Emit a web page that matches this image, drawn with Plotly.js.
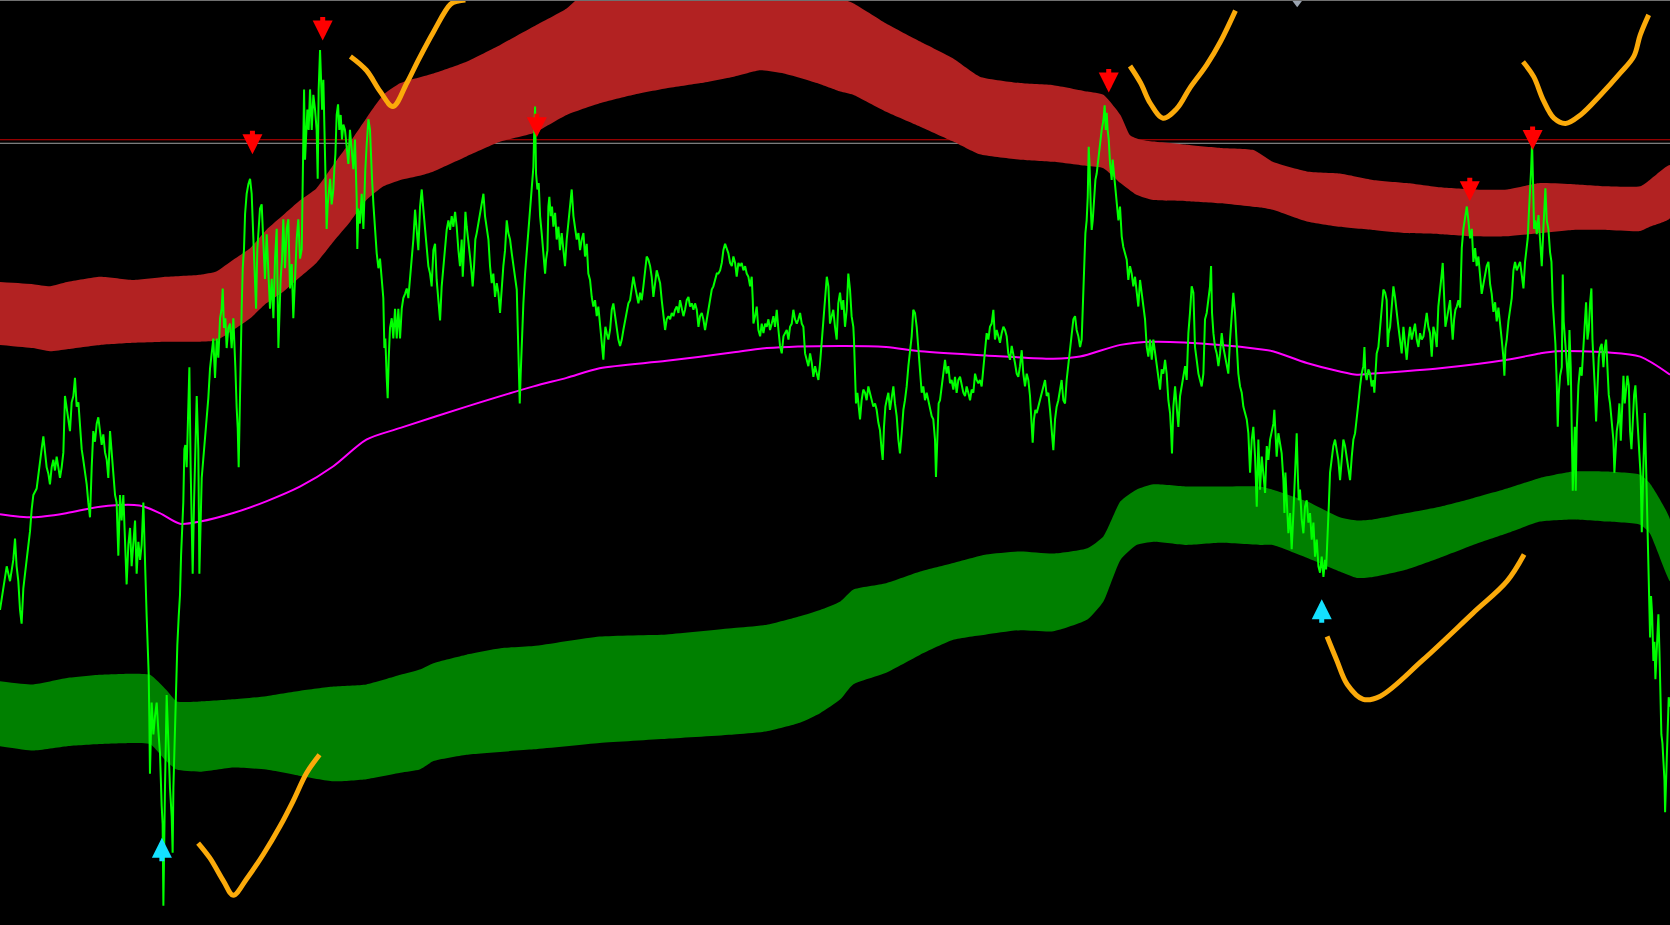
<!DOCTYPE html>
<html>
<head>
<meta charset="utf-8">
<script src="https://cdn.plot.ly/plotly-3.0.1.min.js"></script>
<style>html,body{margin:0;padding:0;background:#000;}#chart{width:1670px;height:925px;}</style>
</head>
<body>
<div id="chart"></div>
<script>
// Values (horizontal = bar position, vertical = price level, screen-down units)
const redTopX = [0,31,47,63,94,125,156,188,203,219,235,250,266,282,297,313,329,344,360,376,407,438,470,501,532,541,560,620,680,740,780,801,832,864,895,920,958,989,1021,1036,1052,1061,1070,1083,1114,1146,1177,1195,1227,1258,1289,1321,1352,1383,1415,1446,1477,1509,1540,1549,1568];
const redTopY = [265,267,269,265,260,263,260,258,255,244,233,216,202,188,177,155,133,111,89,78,69,58,42,25,8,0,-10,-20,-22,-18,-5,3,22,39,55,72,78,80,86,89,108,127,131,133,136,139,141,152,161,163,169,172,176,178,178,172,173,175,175,169,155];
const redBotX = [0,31,47,63,94,125,156,188,203,219,235,250,266,282,297,313,329,344,360,376,394,407,438,470,501,532,563,595,626,658,689,714,736,767,789,801,832,864,895,920,958,989,1021,1036,1052,1067,1083,1114,1146,1183,1195,1227,1258,1289,1321,1352,1383,1415,1446,1477,1509,1540,1549,1568];
const redBotY = [324,327,330,328,324,322,321,321,320,310,299,285,274,260,247,227,208,188,175,169,165,161,147,133,125,108,97,89,83,78,72,66,69,78,86,89,105,119,133,145,150,152,156,158,172,183,188,189,191,195,197,208,213,216,219,220,222,222,219,216,216,217,213,205];

const greenTopX = [0,31,63,94,125,141,156,166,188,219,250,282,313,344,376,394,407,438,470,501,563,626,689,720,751,770,789,801,832,864,895,926,958,989,1021,1036,1052,1067,1083,1114,1146,1183,1195,1227,1258,1274,1289,1321,1352,1383,1415,1446,1477,1509,1540,1549,1568];
const greenTopY = [640,643,637,634,633,634,648,659,659,657,654,649,645,643,634,629,623,615,609,607,598,596,590,587,579,573,565,554,548,537,529,521,518,520,515,504,471,460,455,457,457,457,460,471,486,489,488,482,476,468,459,449,443,443,446,454,488];
const greenBotX = [0,31,63,94,125,141,156,166,188,219,250,282,313,344,376,394,407,438,501,563,626,689,720,751,770,789,801,832,864,895,926,958,989,1021,1036,1052,1067,1083,1114,1146,1183,1195,1227,1258,1274,1289,1321,1352,1383,1415,1446,1477,1509,1540,1549,1568];
const greenBotY = [701,705,701,699,698,699,715,723,725,721,723,729,734,732,726,723,715,709,704,698,694,690,687,679,670,657,643,632,615,601,596,592,593,582,565,526,512,509,512,510,512,512,524,537,543,542,535,524,512,501,490,488,490,493,501,546];

const midX = [0,31,63,94,131,150,169,188,219,250,282,313,344,376,438,501,532,563,626,689,720,789,832,864,926,989,1014,1052,1083,1146,1183,1195,1227,1258,1274,1289,1352,1415,1446,1462,1509,1540,1568];
const midY = [483,486,482,476,475,482,492,490,482,471,457,438,413,402,382,363,355,346,339,331,327,325,326,330,334,337,335,324,321,324,328,330,341,349,352,351,346,338,332,330,331,335,352];

const price = [
[0,573],[4.7,539],[6.3,532],[9.4,546],[12.5,526],[14.1,506],[15.6,532],[17.2,546],[18.8,573],[20.3,586],[21.9,553],[23.5,539],[25,526],[26.6,516],[28.2,499],[29.7,479],[31.3,465],[34.4,459],[36,445],[37.6,432],[39.1,422],[40.7,410],[42.3,425],[43.8,439],[45.4,445],[46.9,455],[48.5,439],[50.1,432],[51.6,442],[53.2,429],[54.8,439],[56.3,449],[57.9,439],[59.5,425],[61,372],[62.6,382],[64.2,392],[65.7,405],[67.3,378],[68.9,372],[70.4,355],[72,382],[73.6,378],[75.1,398],[76.7,422],[78.2,432],[79.8,442],[81.4,455],[82.9,472],[84.5,486],[86.1,439],[87.6,405],[89.2,415],[90.8,398],[92.3,392],[93.9,405],[95.5,418],[97,408],[98.6,425],[100.2,432],[101.7,449],[103.3,405],[104.9,425],[106.4,439],[108,465],[109.5,472],[111.1,522],[112.7,465],[114.2,489],[115.8,465],[117.4,506],[118.9,549],[120.5,512],[122.1,496],[123.6,532],[125.2,512],[126.8,489],[128.3,539],[129.9,509],[131.5,526],[133,512],[134.6,472],[135.5,522],[136.5,539],[137.7,579],[138.7,606],[139.6,633],[140.2,673],[140.8,727],[142.4,660],[144,690],[145.5,673],[147.1,660],[148.7,687],[150.2,707],[151.8,757],[152.7,774],[153.4,851],[154,774],[154.9,740],[156.5,653],[158.1,707],[159.6,740],[161.2,767],[162.1,801],[162.8,740],[164.3,673],[165.3,640],[166.5,606],[167.8,579],[169,559],[170,522],[170.9,496],[172.1,472],[173.1,422],[174,418],[175.3,439],[176.8,382],[177.8,345],[179,439],[180,489],[180.9,539],[182.2,472],[183.1,439],[184.7,372],[186.2,422],[187.2,539],
[189.4,449],[190.9,430],[192.5,416],[194.1,393],[195.6,374],[197.2,346],[198.8,332],[200.3,318],[201.9,355],[203.5,318],[205,336],[206.6,299],[208.1,290],[209.1,271],[210.3,308],[211.6,299],[212.8,327],[214.4,308],[216,304],[217.5,327],[219.1,299],[220,318],[221,346],[222.2,383],[223.2,402],[224.1,439],[225,383],[226,332],[226.9,290],[227.9,252],[229.1,234],[230.1,201],[231.6,182],[233.2,173],[234.8,168],[236.3,182],[237.9,224],[239.4,271],[240.4,290],[241.6,234],[242.9,215],[244.1,196],[245.7,192],[247.3,224],[248.8,262],[250.4,220],[252,252],[253.5,290],[255.1,262],[256.7,299],[258.2,243],[259.8,215],[261.4,327],[262.3,290],[263.5,262],[264.8,243],[266,206],[267.6,252],[269.2,215],[270.7,206],[272.3,271],[273.9,248],[275.4,299],[277,262],[278.6,224],[280.1,206],[281.7,243],[283.3,234],[284.2,168],[285.5,84],[286.4,150],[287.3,122],[288.6,103],[289.8,122],[291.1,84],[292.7,122],[294.2,89],[295.8,103],[297.3,122],[298.3,168],[299.2,84],[300.5,47],[301.4,89],[302.4,103],[303.6,75],[304.5,122],[305.5,159],[306.7,215],[307.7,192],[308.6,182],[309.9,168],[311.4,192],[313,178],[313.9,159],[314.9,145],[316.1,108],[317.4,98],[318.6,122],[319.9,108],[321.1,131],[322.4,117],[323.9,122],[325.5,140],[327.1,154],[328.6,122],[330.2,140],[331.8,159],[333.3,131],[334.9,187],[335.5,234],[336.5,196],[338,210],[339.6,182],[341.2,215],[342.1,178],[343,159],[344.3,136],[345.9,112],[347.4,122],[348.4,150],[349.3,168],[350.6,192],[352.1,215],[353.7,238],[355.3,252],[356.8,243],[358.4,262],[359.9,280],[360.9,327],[361.8,318],[363.1,355],[364,374],[365,336],[366.2,308],[367.8,299],[369.3,318],[370.9,290],[372.5,318],[374,290],[375.6,318],[377.2,290],[378.7,280],[380.3,276],[381.9,271],[383.4,280],
[385,263],[386.6,247],[388.1,225],[389.7,197],[391.3,219],[392.8,235],[394.4,194],[396,178],[397.5,197],[399.1,213],[400.6,235],[402.2,250],[403.8,257],[405.3,269],[406.9,235],[408.5,229],[410,263],[411.6,279],[413.2,301],[414.7,269],[416.3,250],[417.9,229],[419.4,216],[421,207],[422.6,216],[424.1,203],[425.7,213],[427.3,199],[428.8,213],[430.4,235],[431.9,250],[433.5,225],[434.5,260],[435.7,235],[437,199],[438.2,213],[439.8,225],[441.3,241],[442.9,257],[443.8,269],[445.1,250],[446.3,225],[447.6,219],[449.2,210],[450.7,200],[452.3,194],[453.9,182],[455.4,203],[457,213],[458.6,225],[460.1,250],[461.7,266],[463.2,257],[464.8,279],[466.4,266],[467.9,275],[469.5,294],[471.1,269],[472.6,250],[474.2,235],[475.8,207],[477.3,219],[478.9,225],[480.5,238],[482,250],[483.6,263],[485.2,272],[486.1,307],[487,351],[488,379],[488.9,351],[489.9,319],[491.4,285],[493,257],[494.5,238],[496.1,219],[497.7,197],[499.2,185],[500.8,157],[501.4,131],[502.4,100],[503.3,163],[504.6,178],[505.8,172],[507.1,203],[508.6,219],[510.2,238],[511.8,257],[512.7,244],[514,235],[514.9,194],[515.8,185],[517.1,203],[518.3,194],[519.6,213],[521.2,200],[522.7,225],[524.3,213],[525.8,235],[527.4,219],[529,235],[530.5,250],[532.1,225],[533.7,210],[535.2,194],[536.8,178],[538.4,203],[539.9,216],[541.5,225],[543.1,219],[544.6,235],[546.2,225],[547.8,219],[549.3,241],[550.9,229],[552.4,257],[554,263],[555.6,279],[557.1,288],[558.7,282],[560.3,297],[561.8,288],[563.4,307],[565,326],[566.5,338],[567.5,319],[568.4,307],[569.7,313],[571.2,319],[572.8,310],[574.4,291],[575.9,285],[577.5,297],[579.1,304],[580.6,319],
[582.2,325],[583.8,319],[585.3,310],[586.9,300],[588.5,294],[590,285],[591.6,282],[593.2,269],[594.7,260],[596.3,269],[597.8,279],[599.4,285],[601,275],[602.5,282],[604.1,269],[605.7,254],[607.2,241],[608.8,244],[610.4,250],[611.9,260],[613.5,279],[615.1,266],[616.6,254],[618.2,260],[619.8,266],[621.3,282],[622.9,294],[624.5,310],[626,300],[627.6,297],[629.2,300],[630.7,294],[632.3,297],[633.8,291],[635.4,288],[637,294],[638.5,282],[640.1,291],[641.7,297],[643.2,291],[644.8,282],[646.4,279],[647.9,288],[649.5,285],[651.1,291],[652.6,285],[654.2,291],[655.8,307],[657.3,297],[658.9,294],[660.4,300],[662,310],[663.6,300],[665.1,294],[666.7,285],[668.3,272],[669.8,269],[671.4,263],[673,257],[674.5,257],[676.1,254],[677.7,247],[679.2,235],[680.8,229],[682.4,235],[683.9,238],[685.5,247],[687.1,250],[688.6,241],[690.2,247],[691.7,260],[693.3,247],[694.9,250],[696.4,247],[698,254],[699.6,250],[701.1,257],[702.7,260],[704.3,269],[705.8,260],[706.8,282],[707.4,304],[709,297],[710.5,288],[712.1,310],[713.7,316],[715.2,304],[716.8,313],[718.4,304],[719.9,307],[721.5,300],[723,310],[724.6,304],[726.2,297],[727.7,307],[729.3,291],[730.9,310],[732.4,325],[734,332],[735.6,316],[737.1,313],[738.7,310],[740.3,319],[741.8,307],[743.4,304],[744.9,291],[746.5,300],[748.1,304],[749.6,300],[751.2,294],[752.8,304],[754.3,307],[755.9,332],[757.5,338],[759,344],[760.6,332],[762.2,341],[763.7,354],[765.3,344],[766.9,351],[768.4,357],[770,341],[771.6,322],[773.1,300],[774.7,279],[776.3,260],[777.8,269],
[779.3,304],[780.9,297],[782.4,291],[784,307],[785.6,319],[787.1,285],[788.7,275],[790.3,291],[791.8,282],[793.4,307],[795,291],[796.5,257],[798.1,272],[799.6,297],[801.2,307],[801.8,319],[802.8,363],[803.7,379],[805,369],[806.2,385],[807.5,394],[809,376],[810.6,366],[812.2,369],[813.7,376],[815.3,363],[816.9,369],[818.4,376],[820,382],[821.6,379],[823.1,385],[824.7,397],[826.2,404],[827.8,423],[828.8,432],[830,401],[831.3,382],[832.5,376],[834.1,369],[835.6,385],[837.2,376],[838.8,363],[840.3,379],[841.9,391],[843.5,413],[845,426],[846.6,407],[848.2,385],[849.7,376],[851.3,363],[852.9,344],[854.4,329],[856,316],[857.5,291],[859.1,294],[860.7,307],[862.2,325],[863.8,347],[865.4,369],[866.9,363],[868.5,376],[870.1,369],[871.6,376],[873.2,382],[874.8,391],[876.3,394],[877.9,413],[878.8,448],[879.5,426],[880.4,391],[881.3,379],[882.6,376],[884.2,363],[885.7,351],[887.3,338],[888.8,351],[890.4,344],[892,360],[893.5,357],[895.1,366],[896.7,354],[898.2,369],[899.8,357],[901.4,354],[902.9,363],[904.5,369],[906.1,372],[907.6,363],[909.2,369],[910.8,376],[912.3,366],[913.9,369],[915.5,351],[917,357],[918.6,360],[920.1,357],[921.7,363],[923.3,344],[924.8,329],[926.4,313],[928,319],[929.5,307],[931.1,304],[932.7,291],[934.2,319],[935.8,310],[937.4,316],[938.9,322],[940.5,313],[942.1,307],[943.6,310],[945.2,316],[946.7,332],[948.3,338],[949.9,325],[951.4,332],[953,341],[954.6,351],[956.1,354],[957.7,344],[959.3,329],[960.8,351],[962.4,363],[964,351],[965.5,357],[967.1,372],[968.7,394],[969.6,416],[970.8,394],[972.1,385],[973.4,388],[974.9,382],
[976.5,376],[978.1,369],[979.6,363],[981.2,357],[982.8,372],[984.3,369],[985.9,385],[987.5,404],[989,423],[990.6,394],[992.1,382],[993.7,376],[995.3,366],[996.8,357],[998.4,376],[1000,379],[1001.5,357],[1003.1,341],[1004.7,326],[1006.2,313],[1007.8,300],[1009.4,297],[1010.9,310],[1012.5,316],[1014.1,326],[1015.6,319],[1016.6,294],[1017.8,250],[1019.1,219],[1020.3,207],[1021.3,185],[1022.2,138],[1023.1,157],[1024.1,194],[1025,216],[1026,207],[1027.2,185],[1028.5,169],[1029.7,163],[1031.3,147],[1032.8,135],[1034.4,122],[1036,113],[1037.2,99],[1038.2,122],[1039.1,106],[1040,122],[1041,131],[1042.2,153],[1043.8,169],[1044.7,150],[1046,163],[1046.9,175],[1048.5,188],[1050.1,207],[1051.6,194],[1053.2,222],[1054.7,232],[1056.3,238],[1057.9,244],[1059.4,263],[1061,250],[1062.6,257],[1064.1,269],[1065.7,260],[1067.3,272],[1068.8,288],[1070.4,263],[1072,275],[1073.5,288],[1075.1,300],[1076.7,326],[1078.2,335],[1079.8,319],[1081.4,338],[1082.9,319],[1084.5,332],[1086,341],[1087.6,357],[1089.2,366],[1090.7,347],[1092.3,351],[1093.9,338],[1095.4,351],[1097,376],[1098.6,388],[1099.5,404],[1100.4,426],[1101.7,382],[1103.3,363],[1104.8,382],[1106.4,401],[1108,372],[1109.5,363],[1111.1,351],[1112.7,344],[1114.2,357],[1115.8,313],[1117.3,294],[1118.9,269],[1120.5,275],[1122,326],[1123.6,338],[1125.2,351],[1126.7,357],[1128.3,363],[1129.9,351],[1131.4,300],[1133,294],[1134.6,279],[1136.1,269],[1137.1,250],[1138,294],[1139.3,313],[1140.8,326],[1142.4,332],[1144,344],[1145.5,332],[1147.1,313],[1148.6,326],[1150.2,335],[1151.8,341],[1153.3,351],[1154.9,319],[1156.5,294],[1158,275],[1159.6,294],[1161.2,319],[1162.7,351],[1164.3,363],[1165.9,369],[1167.4,382],[1169,388],[1170.6,394],[1172.1,407],
[1173.7,444],[1175.3,413],[1176.8,401],[1178.4,429],[1180,476],[1181.5,413],[1183.1,460],[1184.7,429],[1186.2,444],[1187.8,463],[1189.4,419],[1190.9,432],[1192.5,413],[1194,404],[1195.6,398],[1196.5,385],[1197.5,413],[1198.7,429],[1200.3,407],[1201.9,419],[1203.4,426],[1205,451],[1206,482],[1206.9,444],[1208.1,476],[1209.7,501],[1211.3,482],[1212.8,516],[1214.4,482],[1216,444],[1217.5,407],[1218.5,444],[1219.4,470],[1220.6,460],[1222.2,488],[1223.8,501],[1225.3,476],[1226.9,470],[1228.5,491],[1230,482],[1231.6,507],[1233.2,491],[1234.7,523],[1236.3,507],[1237.9,532],[1239.4,538],[1241,523],[1242.6,542],[1244.1,526],[1245.1,535],[1246.3,513],[1247.6,476],[1248.8,444],[1250.4,429],[1251.9,419],[1253.5,413],[1255.1,423],[1256.6,432],[1258.2,451],[1259.8,432],[1261.3,413],[1262.9,419],[1264.5,429],[1266,441],[1267.6,451],[1269.2,429],[1270.7,413],[1272.3,407],[1273.9,394],[1275.4,379],[1277,363],[1278.5,351],[1280.1,344],[1281.1,326],[1282,351],[1283.2,357],[1284.8,347],[1286.4,351],[1287.9,363],[1289.5,357],[1290.4,369],[1291.4,351],[1292.6,332],[1294.2,326],[1295.8,307],[1297.3,288],[1298.9,272],[1300.5,275],[1302,282],[1303,326],[1303.9,313],[1305.2,307],[1306.7,288],[1308.3,269],[1309.8,279],[1311.4,297],[1313,307],[1314.5,319],[1316.1,332],[1317.7,307],[1319.2,326],[1320.8,338],[1322.4,319],[1323.9,307],[1325.5,319],[1327.1,310],[1328.6,304],[1330.2,319],[1331.8,326],[1333.3,313],[1334.9,319],[1336.5,316],[1338,307],[1339.6,294],[1341.1,307],[1342.7,313],[1344.3,335],[1345.8,307],[1347.4,313],[1349,326],[1350.5,288],[1352.1,275],[1353.7,257],[1354.6,247],[1355.9,288],[1357.1,307],[1358.4,300],[1359.9,291],[1361.5,282],[1363.1,307],[1364,319],[1365.3,300],[1366.5,291],[1367.8,288],[1369.3,282],
[1370.9,289],[1372.5,233],[1374,215],[1375.6,202],[1377.2,194],[1378.7,207],[1380.3,224],[1381.9,215],[1383.4,246],[1385,233],[1386.5,250],[1388.1,241],[1389.7,258],[1391.2,276],[1392.8,267],[1394.4,258],[1395.9,250],[1397.5,246],[1399.1,267],[1400.6,276],[1402.2,293],[1403.8,284],[1405.3,302],[1406.9,289],[1408.5,302],[1410,319],[1411.6,336],[1412.5,353],[1413.5,327],[1414.7,319],[1416.3,302],[1417.8,293],[1419.4,280],[1421,254],[1422.5,246],[1424.1,254],[1425.7,250],[1427.2,246],[1428.8,258],[1430.4,271],[1431.9,246],[1433.5,233],[1434.4,224],[1435.4,202],[1436.6,181],[1437.6,159],[1438.5,134],[1439.4,190],[1440.4,215],[1441.6,207],[1442.9,220],[1444.5,202],[1446,224],[1447.6,250],[1449.1,215],[1450.1,190],[1451,177],[1452.3,207],[1453.8,215],[1455.4,237],[1456.7,246],[1457.9,284],[1459.2,302],[1460.4,323],[1461.7,362],[1462.6,401],[1463.5,371],[1464.8,353],[1466.4,345],[1467.3,258],[1468.2,302],[1469.5,319],[1471.1,345],[1472.6,362],[1473.6,310],[1474.8,345],[1475.8,405],[1476.7,461],[1477.6,431],[1478.6,401],[1479.5,461],[1480.4,405],[1482,362],[1483.6,345],[1485.1,353],[1486.7,327],[1488.3,293],[1489.2,284],[1490.5,319],[1491.7,310],[1493,284],[1494.2,271],[1495.2,319],[1496.1,345],[1497.3,362],[1498.6,396],[1499.8,362],[1501.1,336],[1502.4,327],[1503.9,323],[1505.5,345],[1506.7,327],[1508,319],[1509.2,345],[1510.5,371],[1511.7,379],[1513.3,396],[1514.9,414],[1515.8,444],[1516.8,427],[1518,405],[1519.3,396],[1520.5,379],[1521.8,414],[1523,388],[1524.3,353],[1525.5,379],[1526.8,362],[1528,353],[1529.3,362],[1530.5,405],[1531.8,422],[1533,396],[1534.3,371],[1535.5,362],[1536.8,384],[1538,405],[1539.3,422],[1540.5,448],[1541.5,500],[1542.4,457],[1543.4,405],[1544.3,388],[1545.6,440],[1546.8,491],[1548.1,534],[1549.3,599],[1550.2,560],[1551.2,577],[1552.4,621],[1553.4,603],[1554.3,638],[1555.6,612],[1557.1,577],[1558.1,612],[1559,646],[1559.9,690],[1560.9,698],[1561.8,715],[1562.8,733],[1563.4,763],[1564.3,728],[1565.6,685],[1566.8,655],[1568,664]
];

// hand-drawn orange checkmarks
const mark1X = [186,197,210,219,232,247,263,275,288,300];
const mark1Y = [792,806,828,841,825,803,776,753,726,709];
const mark2X = [329,344,357,369,382,393,407,423,430,437];
const mark2Y = [53,66,86,100,78,56,30,4,1,0];
const mark3X = [1061,1071,1080,1092,1105,1117,1133,1146,1160];
const mark3Y = [62,78,97,111,102,83,61,39,10];
const mark4X = [1430,1440,1449,1459,1470,1484,1503,1521,1534,1540,1548];
const mark4Y = [58,72,94,111,116,108,89,69,53,33,14];
const mark5X = [1246,1255,1265,1280,1296,1336,1383,1415,1431];
const mark5Y = [598,620,643,657,654,620,576,546,521];

// signal arrows (tip positions)
const sellX = [237,303,504,1041,1380,1439];
const sellY = [145,38,129,87,189,141];
const buyX = [152,1241];
const buyY = [787,563];

// horizontal levels
const levelY = [131.3,134.6];
const levelColor = ['#c40000','#a0a0a0'];

// small marker at top edge
const topMarkX = [1218];
const topMarkY = [2];

function band(tx, ty, bx, by, color) {
  return {
    x: tx.concat(bx.slice().reverse()),
    y: ty.concat(by.slice().reverse()),
    type: 'scatter', mode: 'lines', fill: 'toself', fillcolor: color,
    line: {width: 0, color: color, shape: 'spline', smoothing: 0.5},
    hoverinfo: 'skip'
  };
}
function mark(x, y) {
  return {x: x, y: y, type: 'scatter', mode: 'lines',
    line: {color: '#fbaa0a', width: 5, shape: 'spline', smoothing: 1}, hoverinfo: 'skip'};
}

const traces = [
  band(redTopX, redTopY, redBotX, redBotY, '#b22222'),
  band(greenTopX, greenTopY, greenBotX, greenBotY, '#008000'),
  {x: midX, y: midY, type: 'scatter', mode: 'lines', line: {color: '#ff00ff', width: 2, shape: 'spline', smoothing: 0.8}, hoverinfo: 'skip'},
  {x: price.map(p => p[0]), y: price.map(p => p[1]), type: 'scatter', mode: 'lines', line: {color: '#00ff00', width: 2}, hoverinfo: 'skip'},
  mark(mark1X, mark1Y), mark(mark2X, mark2Y), mark(mark3X, mark3Y), mark(mark4X, mark4Y), mark(mark5X, mark5Y),
  {x: topMarkX, y: topMarkY, type: 'scatter', mode: 'markers', marker: {symbol: 'triangle-down', size: 10, color: '#9aa3b0'}, hoverinfo: 'skip', cliponaxis: false}
];

const annotations = [];
sellX.forEach((x, i) => annotations.push({x: x, y: sellY[i], xref: 'x', yref: 'y', ax: 0, ay: -25, text: '', showarrow: true,
  arrowhead: 2, arrowsize: 0.8, arrowwidth: 5, arrowcolor: '#ff0000', standoff: 0}));
buyX.forEach((x, i) => annotations.push({x: x, y: buyY[i], xref: 'x', yref: 'y', ax: 0, ay: 25, text: '', showarrow: true,
  arrowhead: 2, arrowsize: 0.8, arrowwidth: 5, arrowcolor: '#14e1ff', standoff: 0}));

const shapes = levelY.map((y, i) => ({type: 'line', xref: 'paper', x0: 0, x1: 1, yref: 'y', y0: y, y1: y,
  line: {color: levelColor[i], width: 1}, layer: 'below'}));
shapes.push({type: 'line', xref: 'paper', x0: 0, x1: 1, yref: 'paper', y0: 1, y1: 1, line: {color: '#707070', width: 2}});

const layout = {
  width: 1670, height: 925,
  margin: {l: 0, r: 0, t: 0, b: 0, pad: 0},
  paper_bgcolor: '#000000', plot_bgcolor: '#000000',
  xaxis: {range: [0, 1568], visible: false, fixedrange: true},
  yaxis: {range: [869, 0], visible: false, fixedrange: true},
  showlegend: false, hovermode: false,
  shapes: shapes, annotations: annotations
};

Plotly.newPlot('chart', traces, layout, {displayModeBar: false, staticPlot: true});
</script>
</body>
</html>
